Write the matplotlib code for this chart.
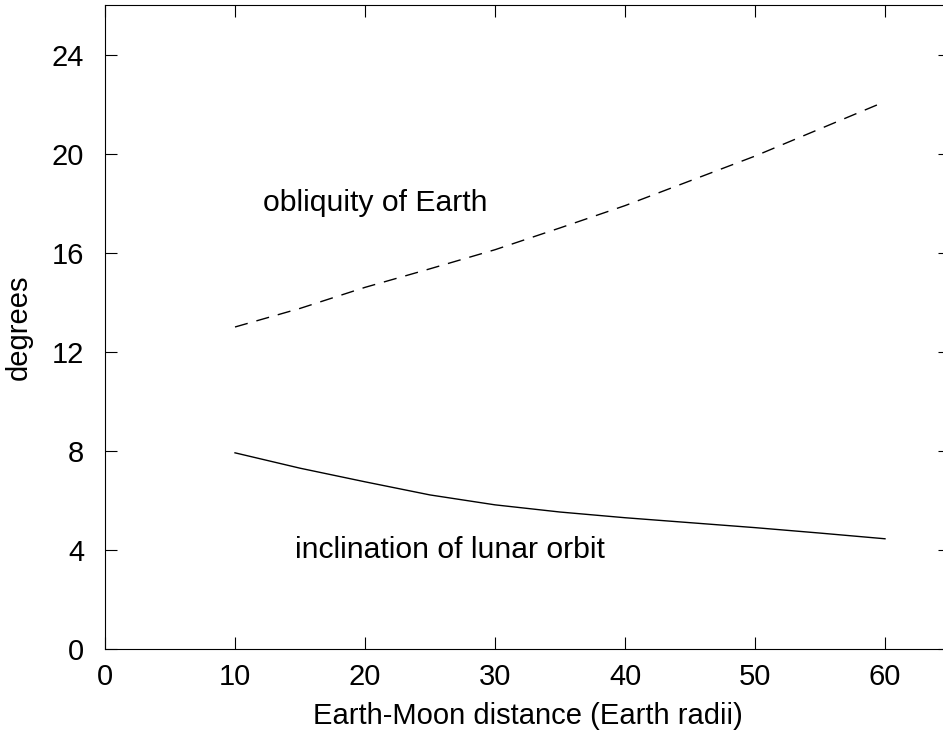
#!/usr/bin/python3
#
# Obliquity of Earth and inclination of the lunar orbit
# against the Earth-Moon distance
#

import matplotlib
matplotlib.use('Agg')
import matplotlib.pyplot as plt

plt.rcParams['font.family'] = ['Liberation Sans', 'DejaVu Sans']

# distance in Earth radii
distance = [10, 15, 20, 25, 30, 35, 40, 45, 50, 55, 60]

# obliquity of Earth (degrees)
obliquity = [13.0, 13.75, 14.6, 15.35, 16.12, 17.0, 17.9, 18.9, 19.9, 21.0, 22.1]

# inclination of lunar orbit (degrees)
inclination = [7.92, 7.3, 6.75, 6.22, 5.82, 5.53, 5.3, 5.1, 4.9, 4.68, 4.45]

x_ticks = [0, 10, 20, 30, 40, 50, 60]
y_ticks = [0, 4, 8, 12, 16, 20, 24]

fs = 21

fig = plt.figure(figsize=(9.43, 7.33), dpi=100)
ax = fig.add_axes([105 / 943, 84 / 733, 845 / 943, 644 / 733])

# curves
ax.plot(distance, obliquity, color='black', linewidth=1.0, dashes=(9.5, 6.5))
ax.plot(distance, inclination, color='black', linewidth=1.0)

# labels on the curves
ax.text(12.15, 18.0, 'obliquity of Earth', fontsize=21.7, va='center', ha='left')
ax.text(14.6, 4.0, 'inclination of lunar orbit', fontsize=21.7, va='center', ha='left')

# axes
ax.set_xlim(0, 65)
ax.set_ylim(0, 26)
ax.set_xticks(x_ticks)
ax.set_yticks(y_ticks)
ax.tick_params(direction='in', length=8.6, width=0.8, top=True, right=True,
               labelsize=fs)
ax.tick_params(axis='x', pad=10)
ax.tick_params(axis='y', pad=15)
for s in ax.spines.values():
    s.set_linewidth(0.8)

ax.set_xlabel('Earth-Moon distance (Earth radii)', fontsize=fs, labelpad=8)
ax.set_ylabel('degrees', fontsize=fs, labelpad=14)

fig.savefig('out.png', dpi=100)
